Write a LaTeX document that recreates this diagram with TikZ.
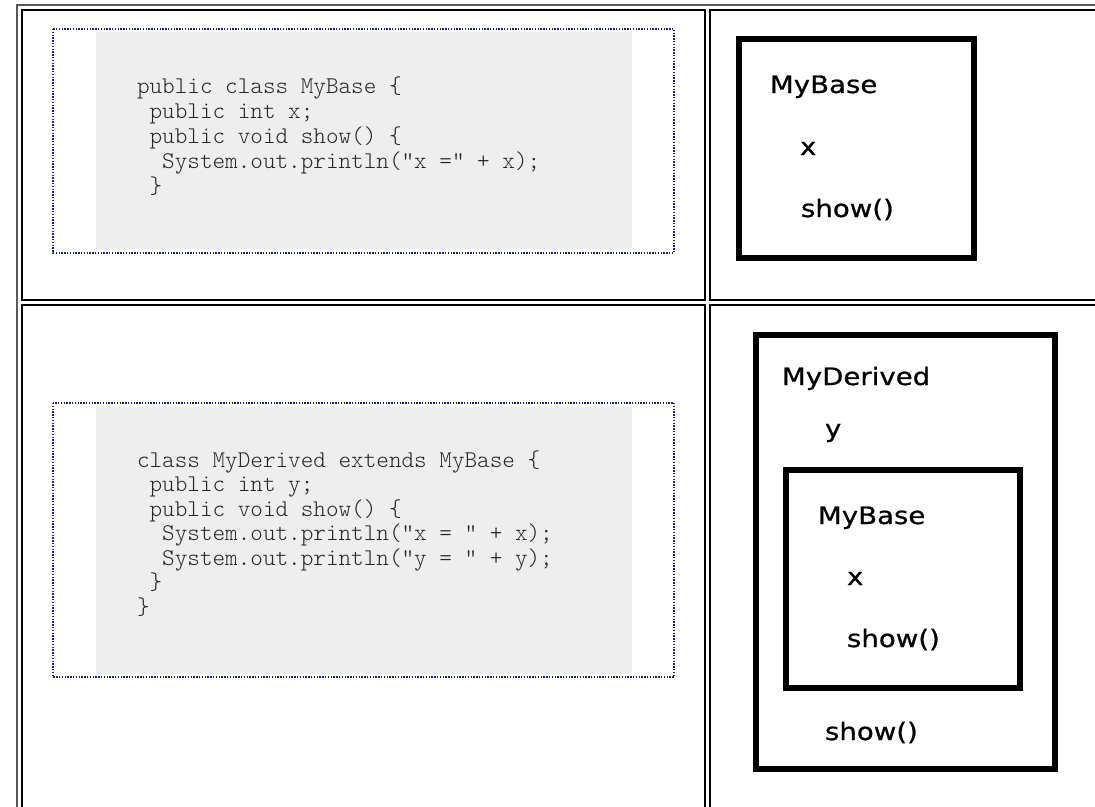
\documentclass[tikz,border=0pt]{standalone}
\usepackage{fontspec}
\setmonofont{lmmonolt10-regular}[Extension=.otf]
\newfontfamily\boxfont[FakeStretch=1.15, FakeBold=0.8]{DejaVu Sans}
\definecolor{navy}{RGB}{30,30,130}
\definecolor{codegray}{RGB}{238,238,238}

\begin{document}
\begin{tikzpicture}[x=1pt, y=-1pt,
    every node/.style={inner sep=0pt, outer sep=0pt},
    cellline/.style={line width=1.5pt, black},
    codebox/.style={line width=1.2pt, draw=navy, dash pattern=on 1.4pt off 1.4pt},
    codeline/.style={anchor=base west, font=\ttfamily\fontsize{24}{28}\selectfont, text=black!85},
    objbox/.style={line width=6pt, black},
    member/.style={anchor=base west, font=\boxfont\fontsize{24}{28}\selectfont}]

    \clip (0,0) rectangle (1095,806);
    \fill[white] (0,0) rectangle (1095,806);

    % table
    \draw[line width=2pt, black!65] (17,830) -- (17,5) -- (1120,5);
    \draw[cellline] (22,10) rectangle (705,300);
    \draw[cellline] (710,10) rectangle (1120,300);
    \draw[cellline] (22,305) rectangle (705,830);
    \draw[cellline] (710,305) rectangle (1120,830);

    % code of the base class
    \draw[codebox] (53,29) rectangle (674,253);
    \fill[codegray] (96,32) rectangle (632,249);
    \node[codeline] (b1) at (137,93) {public class MyBase \{};
    \node[codeline] (b2) at (149.6,118) {public int x;};
    \node[codeline] (b3) at (149.6,143) {public void show() \{};
    \node[codeline] (b4) at (162.2,168) {System.out.println("x =" + x);};
    \node[codeline] (b5) at (149.6,193) {\}};

    % code of the derived class
    \draw[codebox] (53,403) rectangle (674,677);
    \fill[codegray] (96,407) rectangle (632,674);
    \node[codeline] (d1) at (137,467) {class MyDerived extends MyBase \{};
    \node[codeline] (d2) at (149.6,491.5) {public int y;};
    \node[codeline] (d3) at (149.6,516) {public void show() \{};
    \node[codeline] (d4) at (162.2,540.5) {System.out.println("x = " + x);};
    \node[codeline] (d5) at (162.2,565) {System.out.println("y = " + y);};
    \node[codeline] (d6) at (149.6,589.5) {\}};
    \node[codeline] (d7) at (137,614) {\}};

    % object of MyBase
    \draw[objbox] (739,39) rectangle (974,258);
    \node[member] (base) at (770,93) {MyBase};
    \node[member] (basex) at (800,155) {x};
    \node[member] (baseshow) at (801,217) {show()};

    % object of MyDerived
    \draw[objbox] (756,335) rectangle (1055,769);
    \node[member] (derived) at (782,385) {MyDerived};
    \node[member] (derivedy) at (825,437) {y};
    \draw[objbox] (786,470) rectangle (1020,688);
    \node[member] (inner) at (818,524) {MyBase};
    \node[member] (innerx) at (847,585) {x};
    \node[member] (innershow) at (847,647) {show()};
    \node[member] (derivedshow) at (825,740) {show()};
\end{tikzpicture}
\end{document}
